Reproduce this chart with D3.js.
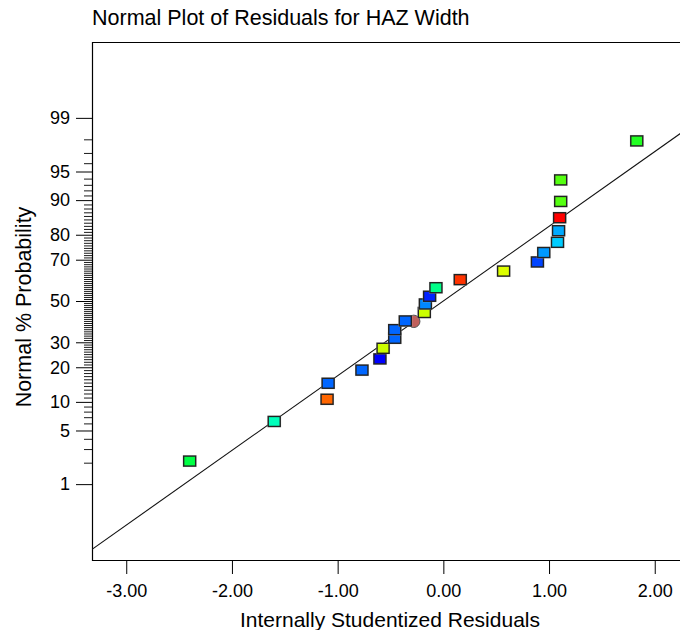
<!DOCTYPE html>
<html>
<head>
<meta charset="utf-8">
<script src="https://cdn.jsdelivr.net/npm/d3@7"></script>
<style>
  body { margin: 0; background: #fff; }
  svg { display: block; font-family: "Liberation Sans", Arial, Helvetica, sans-serif; }
</style>
</head>
<body>
<svg width="680" height="630"></svg>
<script>
// Residuals (x) and normal % probability (y), sorted by residual
const residuals = [-2.40, -1.60, -1.10, -1.09, -0.77, -0.60, -0.57, -0.46, -0.46, -0.36,
  -0.18, -0.17, -0.13, -0.07, 0.16, 0.57, 0.89, 0.95, 1.08, 1.09, 1.10, 1.11, 1.11, 1.83];
const probabilities = [2.1, 6.3, 10.6, 14.8, 19.0, 23.1, 27.4, 31.8, 35.8, 40.0,
  44.2, 48.5, 52.4, 56.7, 60.7, 64.8, 69.0, 73.1, 77.2, 81.4, 85.5, 89.7, 93.8, 97.9];
const pointColors = ["#00ff44", "#00ffbb", "#ff6600", "#0066ff", "#0066ff", "#0000ff", "#ccff00",
  "#0066ff", "#0066ff", "#0066ff", "#ccff00", "#0088ff", "#0022ff", "#00ff88", "#ff3300",
  "#ddff00", "#0044ff", "#0099ff", "#00ccff", "#00aaff", "#ff0000", "#55ff11", "#55ff11", "#22ff22"];

// the one round marker sitting behind the squares
const circleResiduals = [-0.28];
const circleProbabilities = [39.8];
const circleColors = ["#c0605c"];

// axis ticks
const xTicks = [-3, -2, -1, 0, 1, 2];
const yMajorTicks = [1, 5, 10, 20, 30, 50, 70, 80, 90, 95, 99];
const yMinorTicks = d3.range(2, 99).filter(p => !yMajorTicks.includes(p));

// reference line: z = slope * residual
const lineSlope = 0.949;

// inverse normal CDF (Acklam)
function qnorm(p) {
  const a = [-39.69683028665376, 220.9460984245205, -275.9285104469687, 138.3577518672690, -30.66479806614716, 2.506628277459239];
  const b = [-54.47609879822406, 161.5858368580409, -155.6989798598866, 66.80131188771972, -13.28068155288572];
  const c = [-0.007784894002430293, -0.3223964580411365, -2.400758277161838, -2.549732539343734, 4.374664141464968, 2.938163982698783];
  const d = [0.007784695709041462, 0.3224671290700398, 2.445134137142996, 3.754408661907416];
  const pl = 0.02425;
  let q, r;
  if (p < pl) {
    q = Math.sqrt(-2 * Math.log(p));
    return (((((c[0]*q+c[1])*q+c[2])*q+c[3])*q+c[4])*q+c[5]) / ((((d[0]*q+d[1])*q+d[2])*q+d[3])*q+1);
  } else if (p <= 1 - pl) {
    q = p - 0.5; r = q * q;
    return (((((a[0]*r+a[1])*r+a[2])*r+a[3])*r+a[4])*r+a[5])*q / (((((b[0]*r+b[1])*r+b[2])*r+b[3])*r+b[4])*r+1);
  }
  q = Math.sqrt(-2 * Math.log(1 - p));
  return -(((((c[0]*q+c[1])*q+c[2])*q+c[3])*q+c[4])*q+c[5]) / ((((d[0]*q+d[1])*q+d[2])*q+d[3])*q+1);
}

const svg = d3.select("svg");
const plotLeft = 92, plotTop = 42, plotBottom = 560, plotRight = 720;

const x = d3.scaleLinear().domain([-3.324, 2.6]).range([plotLeft, plotLeft + (2.6 + 3.324) * 105.7]);
const y = d3.scaleLinear().domain([-3.29, 3.29]).range([plotBottom, plotTop]);
const yp = p => y(qnorm(p / 100));

// title
svg.append("text")
  .attr("x", 92).attr("y", 25)
  .attr("font-size", 21.5)
  .text("Normal Plot of Residuals for HAZ Width");

svg.append("defs").append("clipPath").attr("id", "plotClip")
  .append("rect").attr("x", plotLeft).attr("y", plotTop)
  .attr("width", plotRight - plotLeft).attr("height", plotBottom - plotTop);

// frame (left, top, bottom)
svg.append("path")
  .attr("d", `M680,${plotTop + 0.5}H${plotLeft + 0.5}V${plotBottom + 0.5}H680`)
  .attr("fill", "none").attr("stroke", "#000").attr("stroke-width", 1.2);

// x axis
const xAxis = svg.append("g").attr("transform", `translate(0,${plotBottom})`)
  .call(d3.axisBottom(x).tickValues(xTicks).tickSize(14).tickPadding(10).tickFormat(d => d.toFixed(2)));
xAxis.select(".domain").remove();
xAxis.selectAll("text").attr("font-size", 18).attr("fill", "#000");
xAxis.selectAll("line").attr("stroke", "#000");

// y axis, probability scale
const yAxis = svg.append("g").attr("transform", `translate(${plotLeft},0)`)
  .call(d3.axisLeft(y).tickValues(yMajorTicks.map(p => qnorm(p / 100))).tickSize(16).tickPadding(6)
    .tickFormat((d, i) => yMajorTicks[i]));
yAxis.select(".domain").remove();
yAxis.selectAll("text").attr("font-size", 18).attr("fill", "#000");
yAxis.selectAll("line").attr("stroke", "#000");

const yMinor = svg.append("g").attr("transform", `translate(${plotLeft},0)`)
  .call(d3.axisLeft(y).tickValues(yMinorTicks.map(p => qnorm(p / 100))).tickSize(8).tickFormat(""));
yMinor.select(".domain").remove();
yMinor.selectAll("line").attr("stroke", "#000").attr("stroke-width", 0.9);

svg.selectAll("g").attr("font-family", null);

// axis titles
svg.append("text")
  .attr("x", 390).attr("y", 627)
  .attr("text-anchor", "middle")
  .attr("font-size", 21)
  .text("Internally Studentized Residuals");

svg.append("text")
  .attr("transform", "translate(31,307) rotate(-90)")
  .attr("text-anchor", "middle")
  .attr("font-size", 21.5)
  .text("Normal % Probability");

const plot = svg.append("g").attr("clip-path", "url(#plotClip)");

// reference line
const xd = x.domain();
plot.append("line")
  .attr("x1", x(xd[0])).attr("y1", y(lineSlope * xd[0]))
  .attr("x2", x(xd[1])).attr("y2", y(lineSlope * xd[1]))
  .attr("stroke", "#111").attr("stroke-width", 1.1);

// round marker (behind)
plot.selectAll(".dot").data(circleResiduals).enter().append("circle")
  .attr("class", "dot")
  .attr("cx", d => x(d))
  .attr("cy", (d, i) => yp(circleProbabilities[i]))
  .attr("r", 6.2)
  .attr("fill", (d, i) => circleColors[i])
  .attr("stroke", "#555").attr("stroke-width", 1);

// squares
const w = 12, h = 10;
const sq = plot.selectAll(".pt").data(residuals).enter().append("g").attr("class", "pt")
  .attr("transform", (d, i) => `translate(${x(d)},${yp(probabilities[i])})`);
sq.append("rect")
  .attr("x", -w / 2 - 1).attr("y", -h / 2 - 1).attr("width", w + 2).attr("height", h + 2)
  .attr("fill", "#bbb").attr("opacity", 0.6);
sq.append("rect")
  .attr("x", -w / 2).attr("y", -h / 2).attr("width", w).attr("height", h)
  .attr("fill", (d, i) => pointColors[i])
  .attr("stroke", "#222").attr("stroke-width", 1.4);
</script>
</body>
</html>
